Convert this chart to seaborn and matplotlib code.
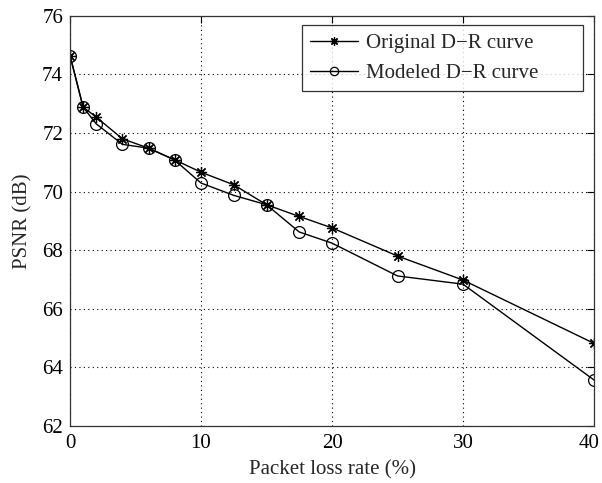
import matplotlib
matplotlib.use("Agg")
import matplotlib.pyplot as plt
import matplotlib.transforms as mtransforms
import seaborn as sns
import pandas as pd

# Packet loss rate (%) and PSNR (dB) for both D-R curves
loss_rate = [0, 1, 2, 4, 6, 8, 10, 12.5, 15, 17.5, 20, 25, 30, 40]
psnr_original = [74.64, 72.88, 72.54, 71.80, 71.48, 71.08, 70.66, 70.23, 69.55, 69.15, 68.76, 67.80, 66.98, 64.82]
psnr_modeled = [74.64, 72.88, 72.31, 71.61, 71.48, 71.07, 70.29, 69.87, 69.55, 68.62, 68.24, 67.12, 66.84, 63.57]

x_ticks = [0, 10, 20, 30, 40]
y_ticks = [62, 64, 66, 68, 70, 72, 74, 76]

sns.set_style("white")
plt.rcParams["font.family"] = ["Liberation Serif", "DejaVu Serif"]
plt.rcParams["font.size"] = 15

fig = plt.figure(figsize=(6.02, 4.83), dpi=100)
ax = fig.add_axes([0.1163, 0.118, 0.8704, 0.8495])

df_orig = pd.DataFrame({"x": loss_rate, "y": psnr_original})
df_mod = pd.DataFrame({"x": loss_rate, "y": psnr_modeled})

sns.lineplot(data=df_orig, x="x", y="y", ax=ax, color="black", lw=1.0,
             marker=(8, 2, 0), markersize=8, markeredgewidth=0.9,
             markeredgecolor="black", label="Original D\u2212R curve", sort=False)
sns.lineplot(data=df_mod, x="x", y="y", ax=ax, color="black", lw=1.0,
             marker="o", markersize=8.5, markerfacecolor="none",
             markeredgewidth=0.9, markeredgecolor="black",
             label="Modeled D\u2212R curve", sort=False)

ax.set_xlim(0, 40)
ax.set_ylim(62, 76)
ax.set_xticks(x_ticks)
ax.set_yticks(y_ticks)
ax.set_xlabel("Packet loss rate (%)", fontsize=15, labelpad=5)
ax.set_ylabel("PSNR (dB)", fontsize=15, labelpad=7)

ax.grid(True, color="black", linestyle=(0, (1, 3)), linewidth=0.8)
ax.tick_params(direction="in", top=True, right=True, length=5, width=0.8,
               labelsize=15, colors="black")
ax.tick_params(axis="x", pad=6)
ax.tick_params(axis="y", pad=5)
for s in ax.spines.values():
    s.set_visible(True)
    s.set_color("#333333")
    s.set_linewidth(0.9)

# keep the rightmost tick label inside the figure
last = ax.get_xticklabels()[-1]
last.set_transform(last.get_transform() +
                   mtransforms.ScaledTranslation(-0.05, 0, fig.dpi_scale_trans))

leg = ax.legend(loc="upper left", bbox_to_anchor=(0.4427, 0.8238, 0.5363, 0.1535),
                mode="expand", frameon=True, fancybox=False, edgecolor="black",
                fontsize=15, handlelength=2.3, borderpad=0.4,
                labelspacing=0.5, handletextpad=0.35, borderaxespad=0.0)
leg.get_frame().set_linewidth(0.9)
for h in leg.legend_handles:
    h.set_markersize(6)

fig.savefig("out.png", dpi=100)
